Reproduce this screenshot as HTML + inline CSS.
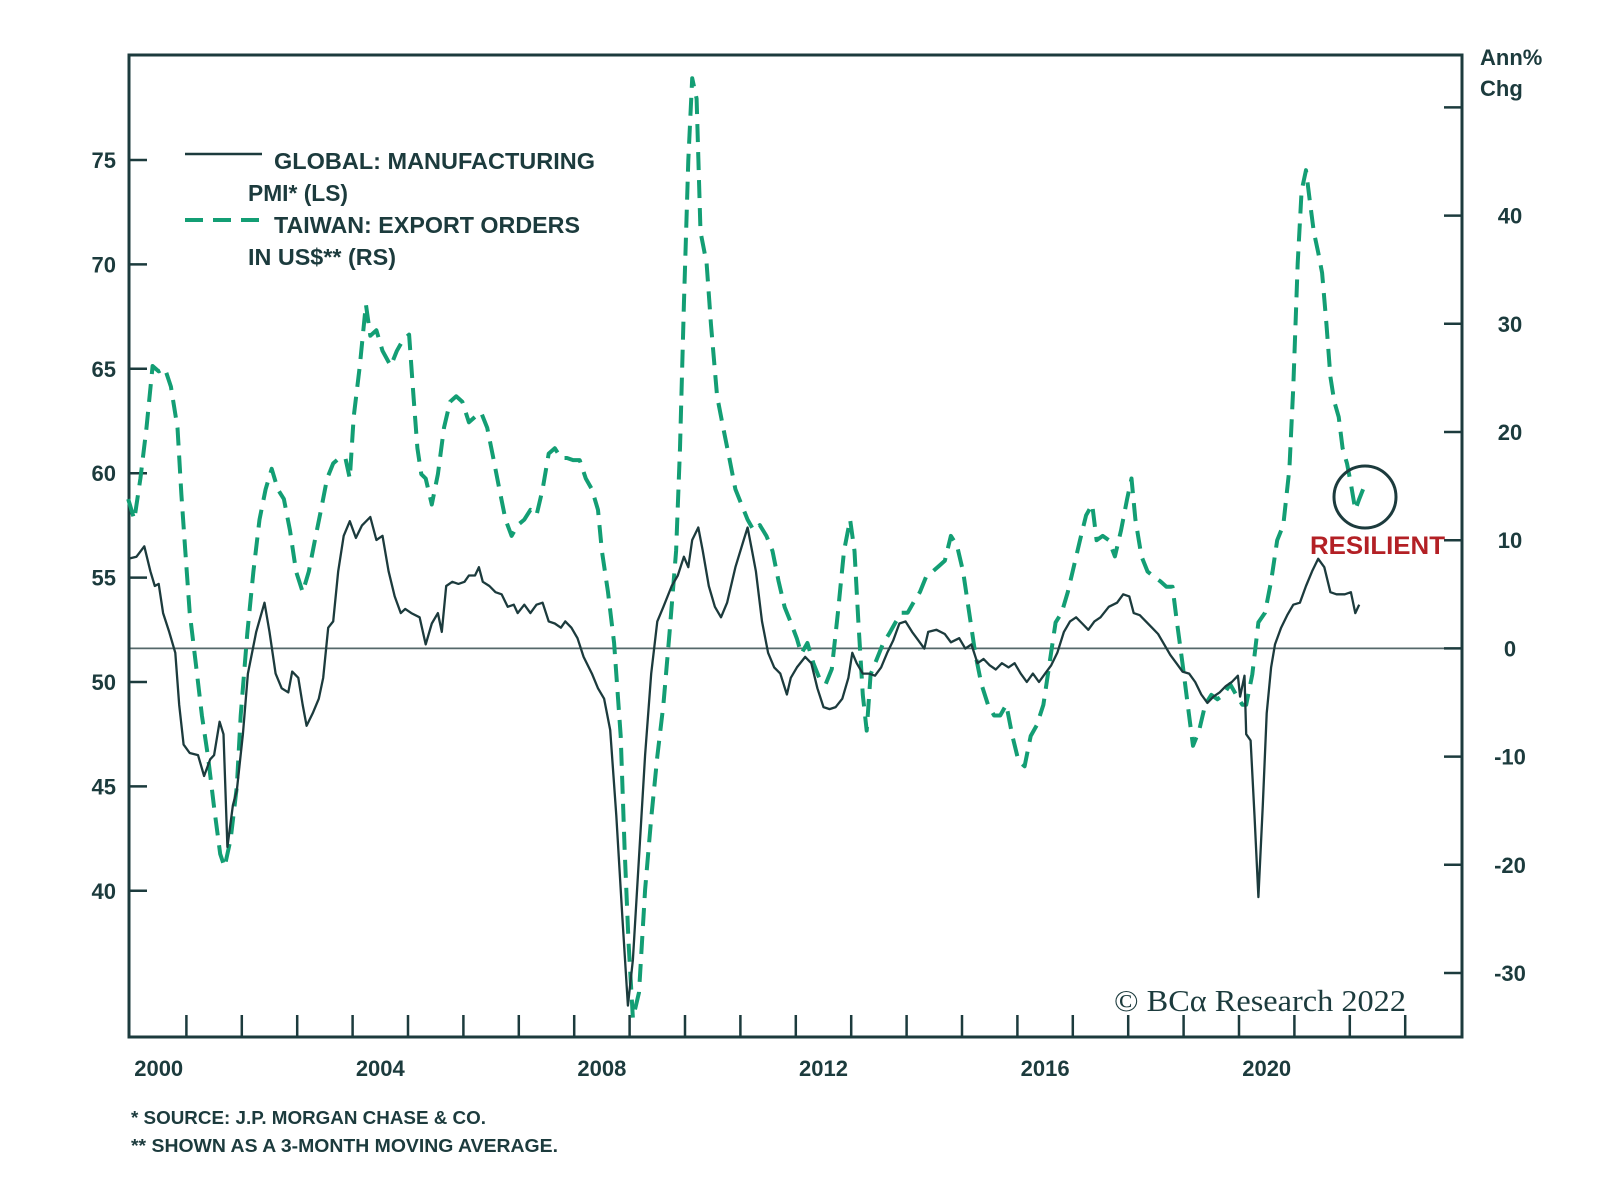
<!DOCTYPE html>
<html><head><meta charset="utf-8"><style>
html,body{margin:0;padding:0;background:#fff;}
svg{display:block;}
text{font-family:"Liberation Sans",sans-serif;fill:#1c3b3d;}
</style></head><body>
<svg id="chart" width="1600" height="1186" viewBox="0 0 1600 1186" xmlns="http://www.w3.org/2000/svg">
<g id="axes"></g>
<g id="series"></g>
<g id="legend">
  <line x1="185" y1="154" x2="262" y2="154" stroke="#1c3b3d" stroke-width="2.5"/>
  <text x="274" y="169" font-size="23" font-weight="bold" textLength="321" lengthAdjust="spacingAndGlyphs">GLOBAL: MANUFACTURING</text>
  <text x="248" y="201" font-size="23" font-weight="bold" textLength="100" lengthAdjust="spacingAndGlyphs">PMI* (LS)</text>
  <line x1="185" y1="220" x2="262" y2="220" stroke="#139e74" stroke-width="4" stroke-dasharray="18,10"/>
  <text x="274" y="233" font-size="23" font-weight="bold" textLength="306" lengthAdjust="spacingAndGlyphs">TAIWAN: EXPORT ORDERS</text>
  <text x="248" y="265" font-size="23" font-weight="bold" textLength="148" lengthAdjust="spacingAndGlyphs">IN US$** (RS)</text>
</g>
<text x="1480" y="65" font-size="22" font-weight="bold">Ann%</text>
<text x="1480" y="96" font-size="22" font-weight="bold">Chg</text>
<circle cx="1365" cy="497" r="31" fill="none" stroke="#1c3b3d" stroke-width="3"/>
<text x="1310" y="554" font-size="25" font-weight="bold" style="fill:#b32025" textLength="135" lengthAdjust="spacingAndGlyphs">RESILIENT</text>
<text x="1114" y="1011" font-size="31" style="font-family:'Liberation Serif',serif" textLength="292" lengthAdjust="spacingAndGlyphs">© BCα Research 2022</text>
<text x="131" y="1124" font-size="18" font-weight="bold" textLength="355" lengthAdjust="spacingAndGlyphs">*  SOURCE: J.P. MORGAN CHASE &amp; CO.</text>
<text x="131" y="1152" font-size="18" font-weight="bold" textLength="427" lengthAdjust="spacingAndGlyphs">**  SHOWN AS A 3-MONTH MOVING AVERAGE.</text>
</svg>
<script>
const pmiDates=[2000.04,2000.19,2000.33,2000.44,2000.52,2000.59,2000.67,2000.78,2000.89,2000.96,2001.04,2001.15,2001.30,2001.41,2001.52,2001.59,2001.69,2001.76,2001.83,2001.93,2002.00,2002.11,2002.20,2002.35,2002.50,2002.59,2002.70,2002.81,2002.93,2003.00,2003.11,2003.19,2003.26,2003.37,2003.48,2003.56,2003.65,2003.74,2003.83,2003.93,2004.04,2004.15,2004.26,2004.41,2004.52,2004.63,2004.74,2004.85,2004.96,2005.04,2005.15,2005.30,2005.41,2005.52,2005.63,2005.70,2005.78,2005.89,2006.00,2006.11,2006.19,2006.30,2006.37,2006.44,2006.56,2006.67,2006.78,2006.89,2007.00,2007.07,2007.19,2007.30,2007.41,2007.52,2007.63,2007.74,2007.85,2007.93,2008.04,2008.15,2008.26,2008.41,2008.52,2008.63,2008.74,2008.85,2008.96,2009.06,2009.15,2009.26,2009.37,2009.48,2009.59,2009.70,2009.85,2009.96,2010.07,2010.15,2010.22,2010.33,2010.41,2010.52,2010.63,2010.74,2010.85,2011.00,2011.15,2011.22,2011.30,2011.37,2011.48,2011.59,2011.70,2011.81,2011.93,2012.00,2012.11,2012.26,2012.37,2012.48,2012.59,2012.70,2012.81,2012.93,2013.04,2013.11,2013.19,2013.30,2013.41,2013.52,2013.63,2013.74,2013.85,2013.96,2014.07,2014.19,2014.30,2014.41,2014.48,2014.63,2014.78,2014.89,2015.04,2015.15,2015.26,2015.37,2015.48,2015.59,2015.70,2015.81,2015.93,2016.04,2016.15,2016.26,2016.37,2016.48,2016.59,2016.70,2016.81,2016.93,2017.04,2017.15,2017.26,2017.37,2017.48,2017.59,2017.74,2017.89,2018.00,2018.11,2018.19,2018.30,2018.41,2018.52,2018.63,2018.74,2018.85,2018.96,2019.07,2019.19,2019.30,2019.41,2019.52,2019.63,2019.74,2019.85,2019.96,2020.07,2020.11,2020.19,2020.22,2020.30,2020.37,2020.44,2020.52,2020.59,2020.67,2020.74,2020.85,2020.96,2021.07,2021.19,2021.30,2021.41,2021.52,2021.63,2021.74,2021.85,2022.00,2022.11,2022.19,2022.26];
const pmiValues=[55.9,56.0,56.5,55.3,54.6,54.7,53.3,52.4,51.4,48.9,47.0,46.6,46.5,45.5,46.3,46.5,48.1,47.5,42.1,44.1,44.8,47.5,50.4,52.4,53.8,52.4,50.4,49.7,49.5,50.5,50.2,48.9,47.9,48.5,49.2,50.2,52.6,52.9,55.3,57.0,57.7,56.9,57.5,57.9,56.8,57.0,55.3,54.1,53.3,53.5,53.3,53.1,51.8,52.8,53.3,52.4,54.6,54.8,54.7,54.8,55.1,55.1,55.5,54.8,54.6,54.3,54.2,53.6,53.7,53.3,53.7,53.3,53.7,53.8,52.9,52.8,52.6,52.9,52.6,52.1,51.2,50.4,49.7,49.2,47.7,43.6,38.7,34.5,36.7,41.6,46.5,50.4,52.9,53.6,54.6,55.1,56.0,55.5,56.8,57.4,56.3,54.6,53.6,53.1,53.8,55.5,56.8,57.4,56.3,55.3,52.9,51.4,50.7,50.4,49.4,50.2,50.7,51.2,50.9,49.7,48.8,48.7,48.8,49.2,50.2,51.4,50.9,50.4,50.4,50.3,50.7,51.4,52.0,52.8,52.9,52.4,52.0,51.6,52.4,52.5,52.3,51.9,52.1,51.6,51.8,50.9,51.1,50.8,50.6,50.9,50.7,50.9,50.4,50.0,50.4,50.0,50.4,50.8,51.4,52.4,52.9,53.1,52.8,52.5,52.9,53.1,53.6,53.8,54.2,54.1,53.3,53.2,52.9,52.6,52.3,51.8,51.3,50.9,50.5,50.4,50.0,49.4,49.0,49.3,49.5,49.8,50.0,50.3,49.3,50.3,47.5,47.2,43.6,39.7,44.1,48.5,50.7,51.8,52.6,53.2,53.7,53.8,54.6,55.3,55.9,55.5,54.3,54.2,54.2,54.3,53.3,53.7];
const twDates=[2000.04,2000.15,2000.26,2000.37,2000.48,2000.59,2000.70,2000.81,2000.93,2001.00,2001.07,2001.15,2001.26,2001.37,2001.48,2001.59,2001.70,2001.78,2001.89,2002.00,2002.07,2002.19,2002.30,2002.41,2002.52,2002.63,2002.74,2002.85,2002.96,2003.07,2003.19,2003.30,2003.41,2003.52,2003.63,2003.74,2003.85,2003.96,2004.04,2004.11,2004.22,2004.33,2004.41,2004.52,2004.63,2004.78,2004.89,2005.00,2005.11,2005.19,2005.26,2005.33,2005.41,2005.52,2005.63,2005.74,2005.85,2005.96,2006.07,2006.19,2006.30,2006.41,2006.52,2006.63,2006.74,2006.85,2006.96,2007.07,2007.19,2007.30,2007.41,2007.52,2007.63,2007.74,2007.85,2007.96,2008.07,2008.19,2008.30,2008.41,2008.52,2008.59,2008.70,2008.81,2008.93,2009.00,2009.07,2009.15,2009.26,2009.37,2009.48,2009.59,2009.70,2009.81,2009.93,2010.00,2010.07,2010.15,2010.22,2010.30,2010.37,2010.48,2010.56,2010.67,2010.78,2010.89,2011.00,2011.11,2011.22,2011.33,2011.44,2011.56,2011.67,2011.78,2011.89,2012.00,2012.11,2012.19,2012.30,2012.41,2012.52,2012.63,2012.74,2012.85,2012.96,2013.07,2013.15,2013.22,2013.30,2013.37,2013.44,2013.56,2013.67,2013.78,2013.89,2014.00,2014.11,2014.22,2014.33,2014.44,2014.56,2014.67,2014.78,2014.89,2015.00,2015.11,2015.22,2015.33,2015.44,2015.56,2015.67,2015.78,2015.89,2016.00,2016.11,2016.22,2016.33,2016.44,2016.56,2016.67,2016.78,2016.89,2017.00,2017.11,2017.22,2017.33,2017.44,2017.52,2017.63,2017.74,2017.85,2017.96,2018.07,2018.15,2018.22,2018.33,2018.44,2018.56,2018.67,2018.78,2018.89,2018.96,2019.07,2019.19,2019.26,2019.37,2019.48,2019.59,2019.70,2019.81,2019.93,2020.04,2020.15,2020.22,2020.33,2020.44,2020.56,2020.67,2020.78,2020.89,2021.00,2021.07,2021.15,2021.22,2021.30,2021.37,2021.44,2021.52,2021.59,2021.67,2021.74,2021.81,2021.89,2021.96,2022.04,2022.11,2022.19,2022.26,2022.33];
const twValues=[13.8,11.9,15.7,20.4,26.1,25.6,25.9,24.2,20.4,14.2,9.0,3.3,-1.4,-6.2,-10.0,-14.7,-19.0,-20.2,-17.6,-12.8,-6.2,1.4,7.1,11.9,14.7,16.6,14.7,13.8,10.9,7.1,5.2,7.1,10.0,12.8,15.7,17.1,17.6,17.6,15.7,21.4,26.1,31.8,28.9,29.4,27.5,26.1,27.5,28.5,29.0,23.3,18.5,16.1,15.7,13.3,16.1,20.4,22.8,23.3,22.8,20.9,21.4,21.8,20.4,17.6,14.7,11.9,10.4,11.4,11.9,12.8,12.3,14.7,18.0,18.5,17.6,17.6,17.4,17.4,15.7,14.7,12.8,9.0,5.2,0.5,-8.1,-18.5,-27.1,-34.2,-31.8,-22.3,-15.7,-10.0,-5.2,1.4,9.0,18.5,31.8,45.1,52.7,50.8,38.5,35.6,29.9,23.3,20.4,17.6,14.7,13.3,11.9,10.9,11.4,10.4,9.0,6.2,3.8,2.4,0.9,-0.5,0.5,-1.4,-2.8,-3.3,-1.9,3.3,9.0,11.9,9.0,2.4,-4.3,-7.6,-2.4,-0.9,0.5,1.4,2.4,3.3,3.3,4.3,5.2,6.6,7.1,7.6,8.1,10.4,9.5,7.1,3.3,-0.5,-3.3,-5.2,-6.2,-6.2,-5.2,-8.1,-10.4,-10.9,-8.1,-7.1,-5.2,-1.4,2.4,3.3,5.2,7.6,10.0,12.3,13.3,10.0,10.4,10.0,8.5,10.9,13.8,15.7,11.9,8.5,7.1,6.6,6.2,5.7,5.7,2.8,-1.4,-6.2,-9.0,-7.6,-5.2,-4.3,-4.7,-4.3,-3.3,-4.3,-5.2,-5.2,-2.4,2.4,3.3,6.2,10.0,11.4,16.6,24.2,35.6,42.3,44.2,41.3,38.5,36.6,34.7,29.9,25.1,22.8,21.4,18.5,17.1,15.2,12.8,13.8,14.7];
const leftTicks=[40,45,50,55,60,65,70,75];
const rightTicks=[-30,-20,-10,0,10,20,30,40,50];
const rightTickLabels=["-30","-20","-10","0","10","20","30","40",""];
const xTickYears=[2001,2002,2003,2004,2005,2006,2007,2008,2009,2010,2011,2012,2013,2014,2015,2016,2017,2018,2019,2020,2021,2022,2023];
const xLabelYears=[2000,2004,2008,2012,2016,2020];

const NS="http://www.w3.org/2000/svg";
const L=129,R=1462,T=55,B=1037;
function xs(y){return 131+(y-2000)*55.4;}
function xsS(y){return xs(y)-5;}
function yl(v){return 682-(v-50)*20.88;}
function yr(v){return 648.4-v*10.82;}
function mk(tag,attrs,parent){const e=document.createElementNS(NS,tag);for(const k in attrs)e.setAttribute(k,attrs[k]);parent.appendChild(e);return e;}
const ax=document.getElementById('axes');
const se=document.getElementById('series');
const C="#1c3b3d";

let zl=mk('line',{x1:L,x2:R,y1:yr(0),y2:yr(0),stroke:"#55686a","stroke-width":1.8},ax);



leftTicks.forEach(v=>{
  const t=mk('line',{x1:L,x2:L+18,y1:yl(v),y2:yl(v),stroke:C,"stroke-width":2.5},ax);
  
  
  const tx=mk('text',{x:116,y:yl(v)+8,"text-anchor":"end","font-size":22,"font-weight":"bold"},ax);
  tx.textContent=v;
  
  
});
rightTicks.forEach((v,i)=>{
  const t=mk('line',{x1:R-18,x2:R,y1:yr(v),y2:yr(v),stroke:C,"stroke-width":2.5},ax);
  
  
  const tx=mk('text',{x:1510,y:yr(v)+8,"text-anchor":"middle","font-size":22,"font-weight":"bold"},ax);
  tx.textContent=rightTickLabels[i];
  
  
});
xTickYears.forEach(y=>{
  const t=mk('line',{x1:xs(y),x2:xs(y),y1:B,y2:B-22,stroke:C,"stroke-width":2.5},ax);
  
  
});
xLabelYears.forEach(y=>{
  const tx=mk('text',{x:xs(y+0.5),y:1076,"text-anchor":"middle","font-size":22,"font-weight":"bold"},ax);
  tx.textContent=y;
  
  
});
const fr=mk('path',{d:`M${L},${T}H${R}V${B}H${L}Z`,fill:"none",stroke:C,"stroke-width":3},ax);



const tw=mk('path',{d:twDates.map((d,i)=>(i?'L':'M')+xsS(d).toFixed(1)+','+yr(twValues[i]).toFixed(1)).join(''),fill:"none",stroke:"#139e74","stroke-width":4,"stroke-dasharray":"18,10","stroke-linejoin":"round"},se);


const pm=mk('path',{d:pmiDates.map((d,i)=>(i?'L':'M')+xsS(d).toFixed(1)+','+yl(pmiValues[i]).toFixed(1)).join(''),fill:"none",stroke:C,"stroke-width":2.3,"stroke-linejoin":"round"},se);


</script>
</body></html>
